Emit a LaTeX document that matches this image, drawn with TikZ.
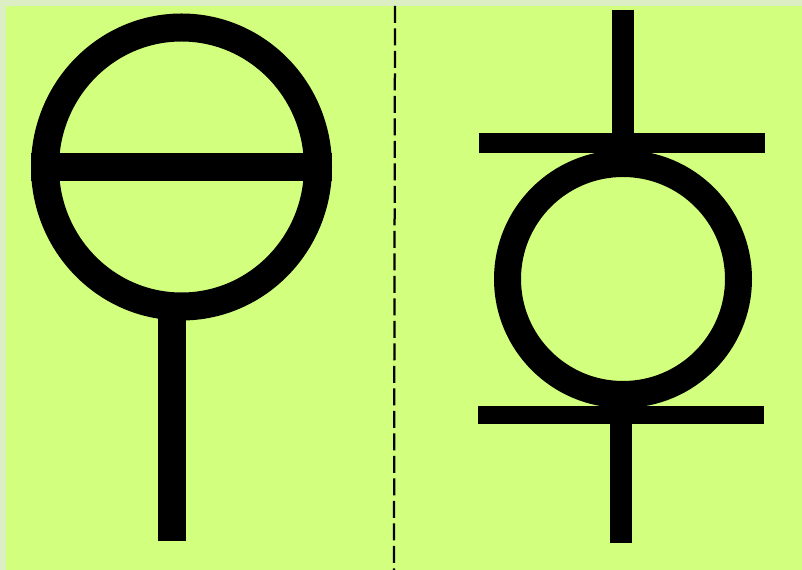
\documentclass[tikz,border=0pt]{standalone}
\usepackage{tikz}
\usetikzlibrary{shapes.geometric, calc}
\definecolor{paper}{HTML}{D3FF7E}
\definecolor{paperedge}{HTML}{DCEFC4}

\begin{document}
\begin{tikzpicture}[
        wide/.style={line width=0.56cm},
        thin bar/.style={line width=0.4cm},
        ring/.style={ellipse, draw=black, inner sep=0pt}
    ]
        % Page
        \useasboundingbox (0, 0) rectangle (16.04, 11.4);
        \fill[paperedge] (0, 0) rectangle (16.04, 11.4);
        \fill[paper] (0.12, 0) rectangle (16.04, 11.28);

        % Fold line
        \coordinate (foldtop) at (7.9, 11.28);
        \coordinate (foldbottom) at (7.88, 0);
        \draw[black, line width=0.045cm, dash pattern=on 0.34cm off 0.11cm] (foldtop) -- (foldbottom);

        % Left sign
        \node[ring, wide, minimum width=5.46cm, minimum height=5.58cm] (dial) at (3.63, 8.06) {};
        \coordinate (dialfoot) at (3.43, 0.58);
        \draw[wide] (dial.west) -- (dial.east);
        \draw[wide, shorten <=-0.3cm] (dialfoot |- dial.south) -- (dialfoot);

        % Right sign
        \node[ring, line width=0.54cm, minimum width=4.62cm, minimum height=4.62cm] (bulb) at (12.46, 5.82) {};
        \coordinate (topleft) at (9.58, 8.54);
        \coordinate (topright) at (15.3, 8.54);
        \coordinate (lowleft) at (9.56, 3.1);
        \coordinate (lowright) at (15.28, 3.1);
        \coordinate (bulbtop) at (12.46, 11.2);
        \coordinate (bulbfoot) at (12.42, 0.54);
        \draw[thin bar] (topleft) -- (topright);
        \draw[thin bar, line width=0.36cm] (lowleft) -- (lowright);
        \draw[line width=0.44cm, shorten >=-0.2cm] (bulbtop) -- (bulbtop |- bulb.north);
        \draw[line width=0.44cm, shorten <=-0.2cm] (bulbfoot |- bulb.south) -- (bulbfoot);
    \end{tikzpicture}
\end{document}
